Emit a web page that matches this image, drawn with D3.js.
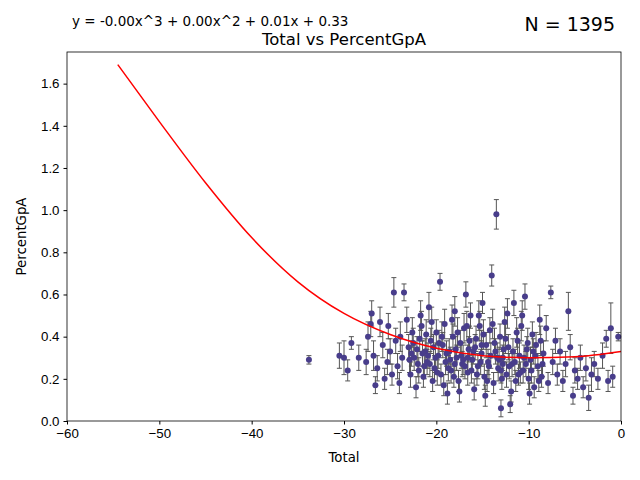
<!DOCTYPE html>
<html><head><meta charset="utf-8">
<script src="https://cdn.jsdelivr.net/npm/d3@7.9.0/dist/d3.min.js"></script>
<style>body{margin:0;background:#fff}svg{font-family:"DejaVu Sans",sans-serif}</style>
</head><body><svg width="640" height="480"></svg>
<script>
// Total (x), PercentGpA (y) and error (half bar)
const totals = [-33.8,-30.5,-30,-29.6,-29.2,-28.4,-27.6,-27.4,-27.1,-27,-26.8,-26.6,-26.4,-26.1,-25.8,-25.6,-25.3,-25.2,-25,-24.8,-24.6,-24.4,-24.2,-24,-23.7,-23.5,
-23.2,-23,-22.8,-22.6,-22.4,-22.2,-22,-21.8,-21.6,-21.4,-21.2,-21,-20.8,-20.6,-20.4,-20.2,-20,-19.8,-19.6,-19.5,-19.3,-19.1,-19,-18.8,-18.6,-18.4,-18.2,-18,-17.8,-17.6,-17.4,-17.2,-17,-16.8,-16.6,-16.5,
-16.3,-16.1,-15.9,-15.7,-15.5,-15.3,-15.1,-15,-14.8,-14.6,-14.4,-14.2,-14,-13.8,-13.6,-13.5,-13.3,-13.1,-13,-12.8,-12.6,-12.4,-12.2,-12,-11.8,-11.6,-11.4,-11.2,-11,-10.8,-10.6,-10.4,-10.2,-10,-9.8,-9.6,-9.4,-9.2,-9,-8.8,-8.6,-8.4,
-8.1,-7.9,-7.6,-7.4,-7.1,-6.9,-6.6,-6.3,-6,-5.7,-5.5,-5.2,-5,-4.7,-4.4,-4.1,-3.8,-3.5,-3.2,-2.9,-2.5,-2,-1.6,-1.4,-1.1,-0.9,-0.3,
-22.9,-22.5,-21.9,-21.5,-21.1,-20.7,-20.3,-19.9,-19.4,-18.9,-18.5,-18.1,-17.7,-17.3,-16.9,-16.4,-16,-15.6,-15.2,-14.9,-14.5,-14.1,-13.7,-13.2,-12.9,-12.5,-12.1,-11.7,-11.3,-10.9,-10.5,-10.1,-9.7,-9.3,-8.9,-8.5,-20.5,-18.3,-16.7,-15.4,-13.9,-12.3,-10.7,-17.5,-14.7,-11.9,-19.2,-9.9,-21.7,-23.9,
-22.1,-21.3,-20.1,-19.7,-18.7,-17.9,-17.1,-16.2,-15.8,-14.3,-13.4,-12.7,-11.5,-11.1,-10.3,-9.5,-8.7,-20.9,-18,-15.1,-13,-22.7,-16.6,-12.8];
const percents = [.29,.31,.30,.24,.37,.30,.28,.40,.46,.51,.31,.17,.25,.47,.36,.20,.28,.45,.33,.22,.61,.38,.26,.18,.30,.61,
.48,.35,.22,.42,.30,.16,.27,.39,.45,.21,.33,.28,.54,.38,.19,.25,.42,.31,.66,.22,.36,.46,.28,.13,.33,.24,.40,.52,.30,.19,.37,.27,.44,.60,.23,.34,
.50,.29,.15,.39,.26,.45,.32,.56,.21,.36,.28,.43,.69,.18,.33,.98,.25,.40,.06,.30,.47,.22,.35,.08,.27,.56,.19,.38,.31,.45,.24,.59,.34,.20,.29,.41,.16,.36,.26,.48,.21,.32,
.44,.18,.61,.28,.38,.22,.33,.19,.27,.52,.35,.12,.24,.20,.30,.16,.25,.11,.22,.27,.20,.31,.39,.19,.44,.21,.40,
.29,.37,.24,.32,.41,.27,.35,.23,.40,.32,.29,.21,.42,.31,.26,.38,.33,.22,.28,.41,.19,.31,.37,.29,.20,.39,.26,.33,.42,.23,.30,.37,.24,.31,.19,.27,.47,.48,.45,.50,.46,.51,.50,.14,.12,.14,.17,.13,.50,.40,
.34,.26,.30,.37,.25,.34,.29,.24,.35,.26,.30,.34,.28,.22,.27,.33,.38,.31,.27,.36,.24,.32,.30,.27];
const errors = [.02,.06,.08,.05,.03,.06,.06,.07,.06,.06,.07,.04,.06,.07,.06,.05,.06,.06,.06,.05,.07,.06,.06,.05,.06,.04,
.06,.06,.06,.07,.06,.05,.06,.06,.07,.05,.06,.06,.07,.06,.05,.06,.06,.06,.04,.05,.06,.07,.06,.05,.06,.06,.06,.07,.06,.05,.06,.06,.07,.06,.06,.06,
.06,.06,.05,.06,.06,.07,.06,.05,.06,.06,.06,.06,.05,.05,.06,.07,.06,.06,.04,.06,.07,.06,.06,.04,.06,.06,.05,.06,.06,.07,.06,.06,.06,.05,.06,.06,.05,.06,.06,.07,.05,.06,
.06,.05,.03,.06,.06,.05,.06,.05,.06,.09,.06,.04,.06,.05,.06,.05,.06,.06,.08,.06,.05,.06,.04,.05,.12,.05,.02,
.06,.07,.06,.06,.07,.06,.06,.06,.07,.06,.06,.05,.07,.06,.06,.07,.06,.05,.06,.07,.05,.06,.07,.06,.05,.07,.06,.06,.07,.05,.06,.07,.06,.06,.05,.06,.07,.07,.07,.07,.07,.07,.07,.05,.05,.05,.05,.05,.07,.07,
.06,.06,.07,.06,.06,.06,.07,.06,.06,.06,.07,.06,.06,.05,.06,.06,.07,.06,.06,.07,.06,.06,.06,.06];
// fitted curve
const curveX = [-54.5,-50,-45,-40,-35,-30,-25,-20,-15,-10,-5,0];
const curveY = [1.69,1.42,1.13,0.87,0.66,0.51,0.41,0.345,0.31,0.30,0.305,0.33];

const svg = d3.select('svg');
const m = {l:67, t:52, r:19, b:59};
const w = 640 - m.l - m.r, h = 480 - m.t - m.b;
const x = d3.scaleLinear().domain([-60, 0]).range([m.l, m.l + w]);
const y = d3.scaleLinear().domain([0, 1.75]).range([m.t + h, m.t]);

const g = svg.append('g');
// error bars
totals.forEach((t, i) => {
  const x0 = x(t), lo = y(Math.max(0, percents[i] - errors[i])), hi = y(percents[i] + errors[i]);
  g.append('line').attr('x1', x0).attr('x2', x0).attr('y1', lo).attr('y2', hi).attr('stroke', '#555').attr('stroke-width', 1);
  [lo, hi].forEach(v => g.append('line').attr('x1', x0 - 2.5).attr('x2', x0 + 2.5).attr('y1', v).attr('y2', v).attr('stroke', '#555').attr('stroke-width', 1));
});
totals.forEach((t, i) => {
  g.append('circle').attr('cx', x(t)).attr('cy', y(percents[i])).attr('r', 3).attr('fill', '#483d8b');
});

svg.append('path')
  .attr('d', d3.line().x(d => x(d[0])).y(d => y(d[1])).curve(d3.curveMonotoneX)(curveX.map((v, i) => [v, curveY[i]])))
  .attr('fill', 'none').attr('stroke', 'red').attr('stroke-width', 1.5);

svg.append('rect').attr('x', m.l).attr('y', m.t).attr('width', w).attr('height', h)
  .attr('fill', 'none').attr('stroke', '#000').attr('stroke-width', 0.8);

const xa = svg.append('g').attr('transform', `translate(0,${m.t + h})`)
  .call(d3.axisBottom(x).tickValues([-60,-50,-40,-30,-20,-10,0]).tickSize(3.5).tickPadding(4).tickFormat(d => d < 0 ? '\u2212' + (-d) : d));
const ya = svg.append('g').attr('transform', `translate(${m.l},0)`)
  .call(d3.axisLeft(y).tickValues([0,0.2,0.4,0.6,0.8,1.0,1.2,1.4,1.6]).tickSize(3.5).tickPadding(4).tickFormat(d3.format('.1f')));
[xa, ya].forEach(a => { a.select('.domain').remove(); a.selectAll('text').attr('font-size', 13.3).attr('fill', '#000'); a.selectAll('line').attr('stroke', '#000'); });

svg.append('text').attr('x', m.l + w / 2).attr('y', 462).attr('text-anchor', 'middle').attr('font-size', 13.3).text('Total');
svg.append('text').attr('transform', `translate(26,${m.t + h / 2}) rotate(-90)`).attr('text-anchor', 'middle').attr('font-size', 13.3).text('PercentGpA');
svg.append('text').attr('x', m.l + w / 2).attr('y', 45).attr('text-anchor', 'middle').attr('font-size', 16.5).text('Total vs PercentGpA');
svg.append('text').attr('x', 72).attr('y', 26).attr('font-size', 13.5).text('y = -0.00x^3 + 0.00x^2 + 0.01x + 0.33');
svg.append('text').attr('x', 615).attr('y', 31).attr('text-anchor', 'end').attr('font-size', 19).text('N = 1395');
</script></body></html>
